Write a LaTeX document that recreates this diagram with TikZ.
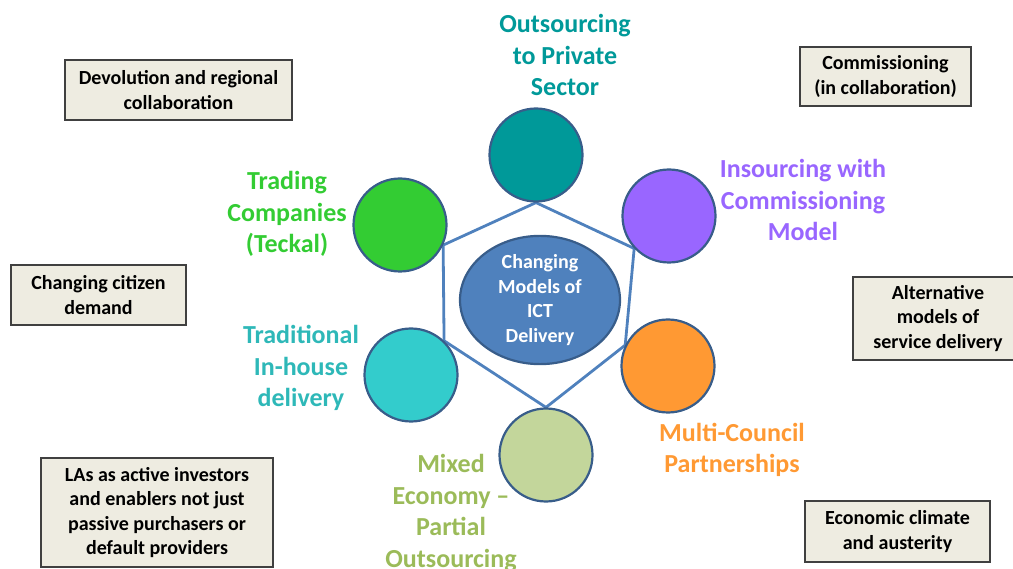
\documentclass[tikz,border=0pt]{standalone}
\usepackage{fontspec}
\setmainfont{Carlito}
\usetikzlibrary{shapes.geometric}
\pgfdeclarelayer{back}
\pgfsetlayers{back,main}
\definecolor{ringline}{HTML}{385D8A}
\definecolor{hexline}{HTML}{4F81BD}
\definecolor{cTeal}{HTML}{009999}
\definecolor{cGreen}{HTML}{33CC33}
\definecolor{cPurple}{HTML}{9966FF}
\definecolor{cCyan}{HTML}{33CCCC}
\definecolor{cOrange}{HTML}{FF9933}
\definecolor{cSage}{HTML}{C3D69B}
\definecolor{cOlive}{HTML}{9BBB59}
\definecolor{cCyanTxt}{HTML}{2EB8B8}
\definecolor{boxfill}{HTML}{EEECE1}
\definecolor{boxline}{HTML}{404040}
\tikzset{
  model/.style={circle, draw=ringline, line width=2.2pt, minimum size=93pt, inner sep=0pt},
  modellabel/.style={align=center, inner sep=0pt, font=\fontsize{26}{31.7}\selectfont\bfseries},
  driver/.style={draw=boxline, line width=1.1pt, fill=boxfill, align=center, inner sep=0pt,
                 font=\fontsize{20}{24.6}\selectfont\bfseries},
  hexedge/.style={draw=hexline, line width=2.8pt, line join=round}
}
\begin{document}
\begin{tikzpicture}[x=1pt,y=-1pt]
\useasboundingbox (0,0) rectangle (1013,569);
\clip (0,0) rectangle (1013,569);

% the six delivery models
\node[model, fill=cTeal]   (out)   at (536,155) {};
\node[model, fill=cGreen]  (trade) at (400,225) {};
\node[model, fill=cPurple] (ins)   at (669,216) {};
\node[model, fill=cCyan]   (trad)  at (411,375) {};
\node[model, fill=cOrange] (multi) at (668,366) {};
\node[model, fill=cSage]   (mixed) at (546,455) {};

% hexagon joining the models, behind the rings
\begin{pgfonlayer}{back}
\draw[hexedge] (out.south) -- (trade.-25) -- (trad.46) -- (mixed.north)
  -- (multi.154) -- (ins.223) -- cycle;
\end{pgfonlayer}

% centre
\node[ellipse, draw=ringline, line width=2.2pt, fill=hexline, minimum width=160pt,
      minimum height=110pt, inner sep=0pt, align=center, text=white,
      font=\fontsize{20}{24.5}\selectfont\bfseries] (core) at (540,300)
      {Changing\\Models of\\ICT\\Delivery};

% model labels
\node[modellabel, text=cTeal]     (lout)   at (565,55)  {Outsourcing\\to Private\\Sector};
\node[modellabel, text=cGreen]    (ltrade) at (287,214) {Trading\\Companies\\(Teckal)};
\node[modellabel, text=cPurple]   (lins)   at (803,200) {Insourcing with\\Commissioning\\Model};
\node[modellabel, text=cCyanTxt]  (ltrad)  at (301,368) {Traditional\\In-house\\delivery};
\node[modellabel, text=cOrange]   (lmulti) at (732,450) {Multi-Council\\Partnerships};
\node[modellabel, text=cOlive]    (lmixed) at (451,513) {Mixed\\Economy --\\Partial\\Outsourcing};

% drivers of change
\node[driver, minimum width=227pt, minimum height=60pt] (devo) at (178.5,90)
  {Devolution and regional\\collaboration};
\node[driver, minimum width=171pt, minimum height=59pt] (comm) at (885.5,76.5)
  {Commissioning\\(in collaboration)};
\node[driver, minimum width=175pt, minimum height=60pt] (citz) at (98.5,295)
  {Changing citizen\\demand};
\node[driver, minimum width=170pt, minimum height=83pt] (alt) at (938,318.5)
  {Alternative\\models of\\service delivery};
\node[driver, minimum width=232pt, minimum height=109pt] (las) at (157,512.5)
  {LAs as active investors\\and enablers not just\\passive purchasers or\\default providers};
\node[driver, minimum width=185pt, minimum height=61pt] (econ) at (897.5,531.5)
  {Economic climate\\and austerity};
\end{tikzpicture}
\end{document}
